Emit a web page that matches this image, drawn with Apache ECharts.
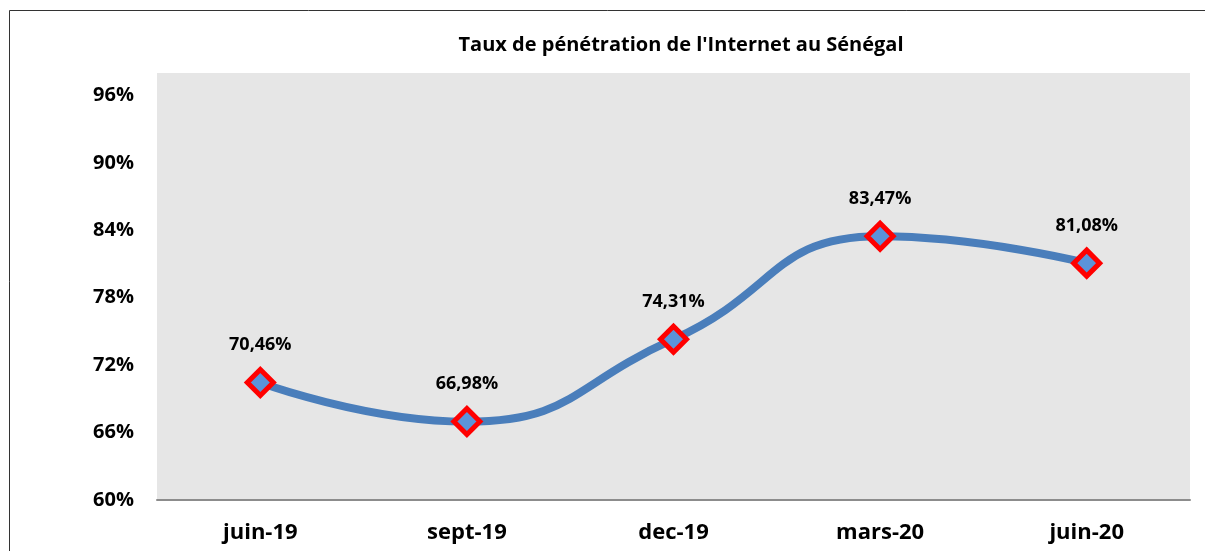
<!DOCTYPE html>
<html>
<head>
<meta charset="utf-8">
<script src="https://cdn.jsdelivr.net/npm/echarts@6/dist/echarts.min.js"></script>
<style>
  html, body { margin: 0; padding: 0; background: #fff; }
  #chart { width: 1205px; height: 551px; }
</style>
</head>
<body>
<div id="chart"></div>
<script>
// données du graphique
var periodes = ['juin-19', 'sept-19', 'dec-19', 'mars-20', 'juin-20'];
var tauxPenetration = [70.46, 66.98, 74.31, 83.47, 81.08];
var titre = "Taux de pénétration de l'Internet au Sénégal";

var police = '"Open Sans", Lato, sans-serif';

var myChart = echarts.init(document.getElementById('chart'));
var option = {
    animation: false,
    title: {
        text: titre,
        left: 676,
        textAlign: 'center',
        top: 30,
        textStyle: { fontFamily: police, fontSize: 20, fontWeight: 'bold', color: '#000' }
    },
    graphic: [{
        type: 'rect',
        shape: { x: 9.5, y: 10.5, width: 1300, height: 700 },
        style: { fill: 'none', stroke: '#333', lineWidth: 1 },
        silent: true
    }],
    grid: {
        left: 157, right: 15, top: 73, bottom: 51,
        show: true, backgroundColor: '#e6e6e6', borderWidth: 0
    },
    xAxis: {
        type: 'category',
        data: periodes,
        boundaryGap: true,
        axisLine: { lineStyle: { color: '#8c8c8c', width: 2 } },
        axisTick: { show: false },
        axisLabel: {
            margin: 22,
            fontFamily: police, fontSize: 22, fontWeight: 'bold', color: '#000'
        }
    },
    yAxis: {
        type: 'value',
        min: 60, max: 98, interval: 6,
        splitLine: { show: false },
        axisLine: { show: false },
        axisTick: { show: false },
        axisLabel: {
            showMaxLabel: false,
            margin: 23,
            fontFamily: police, fontSize: 20, fontWeight: 'bold', color: '#000',
            formatter: function (v) { return v + '%'; }
        }
    },
    series: [{
        type: 'line',
        data: tauxPenetration,
        smooth: 0.5,
        lineStyle: { color: '#4a7ebb', width: 8 },
        symbol: 'diamond',
        symbolSize: 26,
        itemStyle: { color: '#5b93d9', borderColor: '#ff0000', borderWidth: 5 },
        label: {
            show: true,
            position: 'top',
            distance: 13,
            fontFamily: police, fontSize: 18, fontWeight: 'bold', color: '#000',
            formatter: function (p) { return p.value.toFixed(2).replace('.', ',') + '%'; }
        },
        z: 3
    }]
};
myChart.setOption(option);
</script>
</body>
</html>
